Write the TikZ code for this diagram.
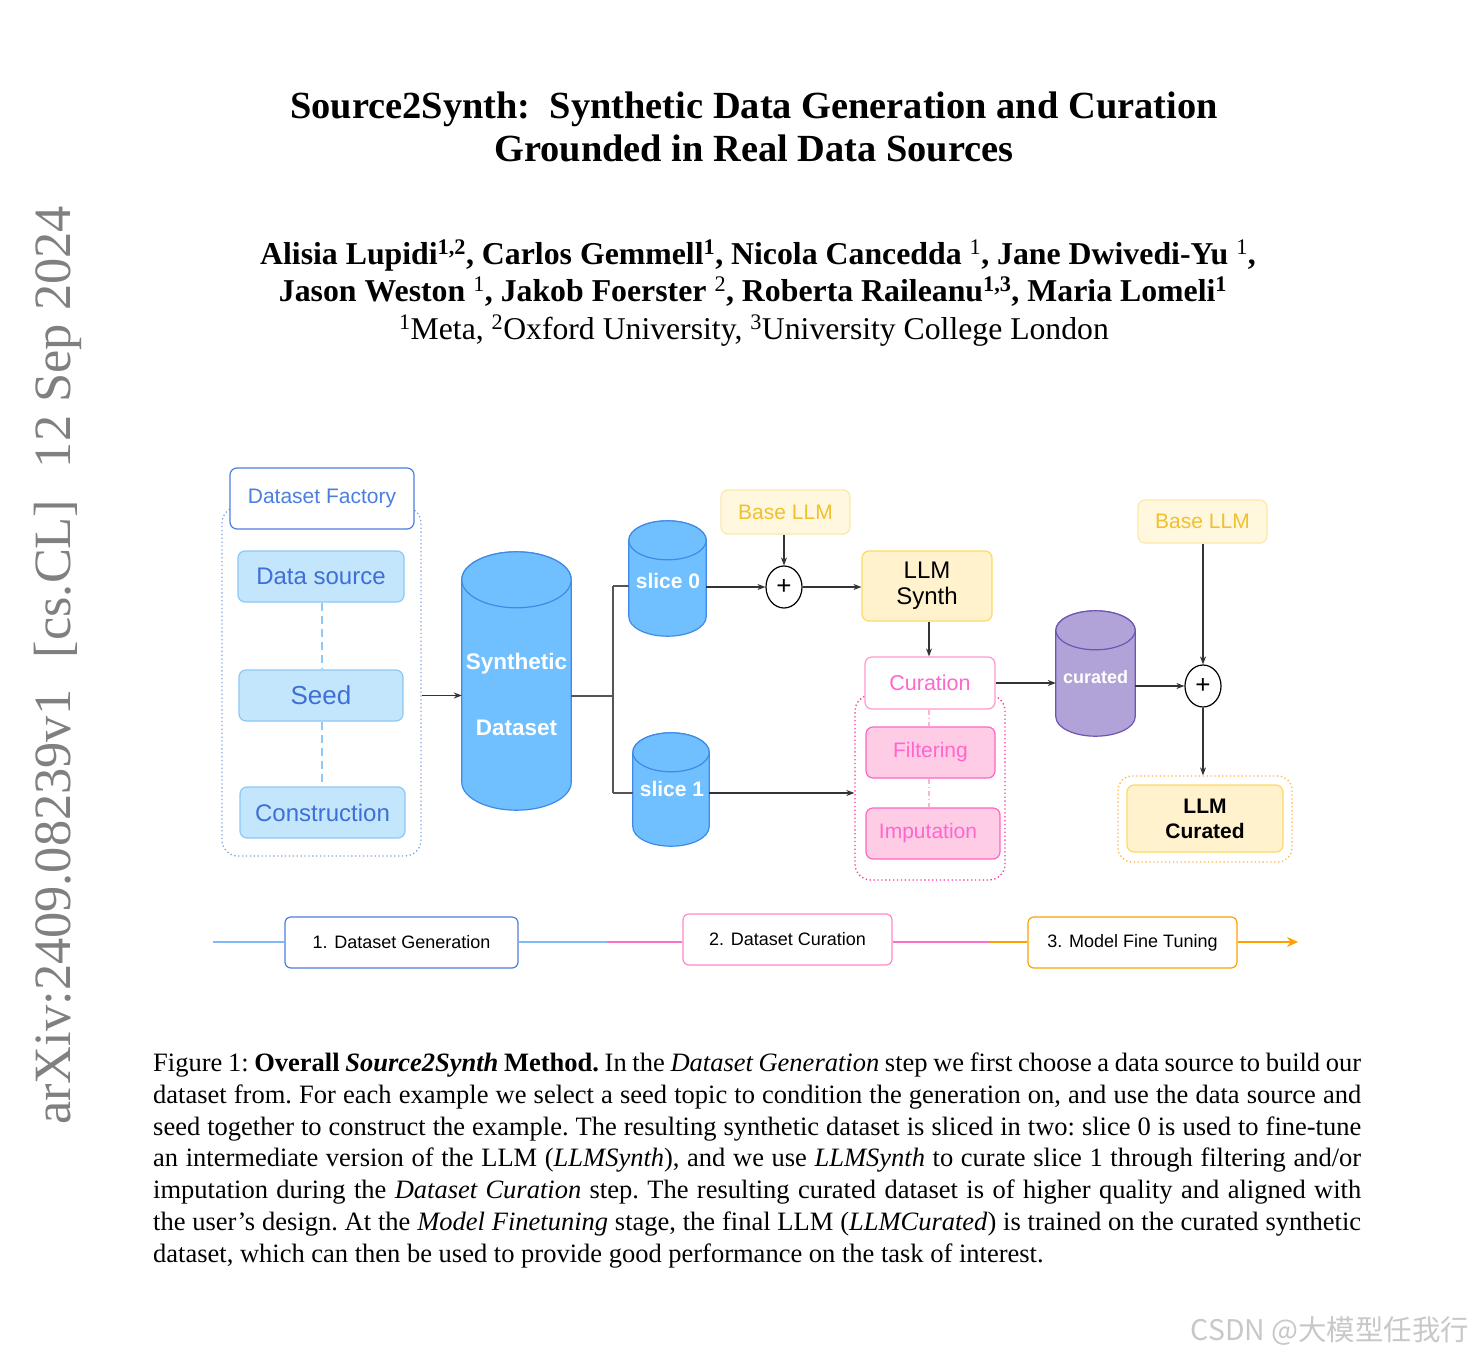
\documentclass[tikz,border=0pt]{standalone}
\usepackage{fontspec}
\setmainfont{Liberation Serif}
\newfontfamily\arial{Liberation Sans}
\newfontfamily\cjkf{Noto Sans CJK SC}
\usetikzlibrary{arrows.meta,shapes.geometric,calc}

\definecolor{dfblue}{HTML}{4A7FE0}
\definecolor{dfdot}{HTML}{7EA6E0}
\definecolor{srcfill}{HTML}{C4E6FD}
\definecolor{srcdraw}{HTML}{8CC8F8}
\definecolor{srctext}{HTML}{3D6FD6}
\definecolor{cylfill}{HTML}{70C0FF}
\definecolor{cyldraw}{HTML}{3F8AE6}
\definecolor{connc}{HTML}{555555}
\definecolor{arrowc}{HTML}{333333}
\definecolor{basefill}{HTML}{FFF8DE}
\definecolor{basedraw}{HTML}{FCE8A8}
\definecolor{basetext}{HTML}{F2BF2E}
\definecolor{llmfill}{HTML}{FFF2CC}
\definecolor{llmdraw}{HTML}{FFD966}
\definecolor{curdraw}{HTML}{FF99CC}
\definecolor{curtext}{HTML}{FF66CC}
\definecolor{filtfill}{HTML}{FFCCE6}
\definecolor{filtdraw}{HTML}{FF66C4}
\definecolor{pinkdot}{HTML}{FF3399}
\definecolor{pinkdash}{HTML}{FFB3D9}
\definecolor{purfill}{HTML}{B1A3D7}
\definecolor{purdraw}{HTML}{6E55B5}
\definecolor{orangedot}{HTML}{FFB347}
\definecolor{tlblue}{HTML}{7EBBF8}
\definecolor{tlpink}{HTML}{FF6EC7}
\definecolor{tlorange}{HTML}{FFA000}
\definecolor{tb2draw}{HTML}{FF88CC}
\definecolor{stampgray}{HTML}{808080}
\definecolor{wmgray}{HTML}{C8C8C8}

% cylinder drawn around an (invisible) named node: #1 name, #2 ry, #3 fill, #4 draw
\newcommand\drawcyl[4]{%
  \path[fill=#3,draw=#4,line width=1.2pt] let \p1=(#1.north west), \p2=(#1.south east) in
    ({\x1},{\y1-#2pt}) -- ({\x1},{\y2+#2pt})
    arc[start angle=180,end angle=360,x radius={(\x2-\x1)/2},y radius=#2pt]
    -- ({\x2},{\y1-#2pt})
    arc[start angle=0,end angle=180,x radius={(\x2-\x1)/2},y radius=#2pt] -- cycle;
  \path[fill=#3,draw=#4,line width=1.2pt] let \p1=(#1.north west), \p2=(#1.south east) in
    ({(\x1+\x2)/2},{\y1-#2pt}) ellipse[x radius={(\x2-\x1)/2},y radius=#2pt];
}

\begin{document}
\begin{tikzpicture}[x=1pt,y=-1pt,
  box/.style={rectangle,rounded corners=7pt,inner sep=0pt,line width=1.2pt},
  cylnode/.style={rectangle,inner sep=0pt,draw=none},
  cyltext/.style={text=white,font=\arial\bfseries\fontsize{22}{22}\selectfont,inner sep=0pt},
  arr/.style={draw=arrowc,line width=1.1pt,-{Stealth[length=8pt,width=6pt]}},
  conn/.style={draw=connc,line width=1.3pt},
  dotbox/.style={rectangle,rounded corners=16pt,line width=1.3pt,dash pattern=on 1.3pt off 2.6pt},
  tlbox/.style={rectangle,rounded corners=6pt,inner sep=0pt,line width=1.2pt,fill=white,
     minimum height=51pt,font=\arial\fontsize{18}{18}\selectfont},
  tline/.style={line width=2.6pt},
  plus/.style={ellipse,draw=black,line width=1.2pt,fill=white,minimum width=36pt,minimum height=42pt,inner sep=0pt,font=\arial\fontsize{26}{26}\selectfont}
]
\useasboundingbox (0,0) rectangle (1473,1357);
\fill[white] (0,0) rectangle (1473,1357);

% ---------- header ----------
\node[anchor=base,font=\bfseries\fontsize{38.4}{38.4}\selectfont,inner sep=0pt] (t1) at (754,118)
  {Source2Synth:\ \ Synthetic Data Generation and Curation};
\node[anchor=base,font=\bfseries\fontsize{38.4}{38.4}\selectfont,inner sep=0pt] (t2) at (754,161)
  {Grounded in Real Data Sources};
\node[anchor=base,font=\bfseries\fontsize{31.8}{31.8}\selectfont,inner sep=0pt] (a1) at (758,264)
  {Alisia Lupidi\textsuperscript{1,2}, Carlos Gemmell\textsuperscript{1}, Nicola Cancedda \textsuperscript{\mdseries 1}, Jane Dwivedi-Yu \textsuperscript{\mdseries 1},};
\node[anchor=base,font=\bfseries\fontsize{31.8}{31.8}\selectfont,inner sep=0pt] (a2) at (753,301)
  {Jason Weston \textsuperscript{\mdseries 1}, Jakob Foerster \textsuperscript{\mdseries 2}, Roberta Raileanu\textsuperscript{1,3}, Maria Lomeli\textsuperscript{1}};
\node[anchor=base,font=\fontsize{31.7}{31.7}\selectfont,inner sep=0pt] (af) at (754,339)
  {\textsuperscript{1}Meta, \textsuperscript{2}Oxford University, \textsuperscript{3}University College London};

% arXiv stamp
\node[anchor=base west,rotate=90,text=stampgray,font=\fontsize{52.4}{52.4}\selectfont,inner sep=0pt] (stamp) at (70,1125)
  {arXiv:2409.08239v1\hspace{0.6em}[cs.CL]\hspace{0.6em}12 Sep 2024};

% ---------- diagram: dataset generation ----------
\node[dotbox,draw=dfdot,minimum width=199pt,minimum height=349pt] (dfc) at (321.5,681.5) {};
\node[box,draw=dfblue,fill=white,minimum width=184pt,minimum height=61pt,text=dfblue,
  font=\arial\fontsize{21}{21}\selectfont] (df) at (322,498.5) {Dataset Factory};
\node[box,draw=srcdraw,fill=srcfill,minimum width=166pt,minimum height=51pt,text=srctext,
  font=\arial\fontsize{24}{24}\selectfont] (src) at (321,576.5) {Data source};
\node[box,draw=srcdraw,fill=srcfill,minimum width=164pt,minimum height=51pt,text=srctext,
  font=\arial\fontsize{26}{26}\selectfont] (seed) at (321,695.5) {Seed};
\node[box,draw=srcdraw,fill=srcfill,minimum width=165pt,minimum height=51pt,text=srctext,
  font=\arial\fontsize{24}{24}\selectfont] (cons) at (322.5,812.5) {Construction};
\draw[srcdraw,line width=1.3pt,dash pattern=on 8pt off 5pt] (src.south -| 322,0) -- (seed.north -| 322,0);
\draw[srcdraw,line width=1.3pt,dash pattern=on 8pt off 5pt] (seed.south -| 322,0) -- (cons.north -| 322,0);

% synthetic dataset cylinder
\node[cylnode,minimum width=109pt,minimum height=258pt] (syn) at (516.5,681) {};
\drawcyl{syn}{28}{cylfill}{cyldraw}
\node[cyltext,font=\arial\bfseries\fontsize{22.5}{22.5}\selectfont] (synA) at (516.5,664) {Synthetic};
\node[cyltext,font=\arial\bfseries\fontsize{22.5}{22.5}\selectfont] (synB) at (516.5,728) {Dataset};
\draw[arr] (dfc.east |- seed.center) -- (syn.west |- seed.center);

% slices
\node[cylnode,minimum width=77pt,minimum height=115pt] (s0) at (667.5,578.5) {};
\drawcyl{s0}{19.5}{cylfill}{cyldraw}
\node[cyltext,font=\arial\bfseries\fontsize{21}{21}\selectfont] (s0t) at (668,581) {slice 0};
\node[cylnode,minimum width=76pt,minimum height=113pt] (s1) at (671,789.5) {};
\drawcyl{s1}{19.5}{cylfill}{cyldraw}
\node[cyltext,font=\arial\bfseries\fontsize{21}{21}\selectfont] (s1t) at (672,789) {slice 1};

\coordinate (jn) at (613,696);
\coordinate (b0) at (613,586);
\coordinate (b1) at (613,793);
\draw[conn] (syn.east |- jn) -- (jn);
\draw[conn] (b0) -- (b1);
\draw[conn] (b0) -- (s0.west |- b0);
\draw[conn] (b1) -- (s1.west |- b1);

% ---------- curation ----------
\node[box,draw=basedraw,fill=basefill,minimum width=129pt,minimum height=44pt,text=basetext,
  font=\arial\fontsize{21}{21}\selectfont] (base1) at (785.5,512) {Base LLM};
\node[plus] (p1) at (784,587) {+};
\node[box,draw=llmdraw,fill=llmfill,minimum width=130pt,minimum height=70pt,align=center,
  font=\arial\fontsize{24}{26}\selectfont] (synth) at (927,586) {LLM\\Synth};
\draw[arr] (base1.south -| p1) -- (p1.north);
\draw[arr] (s0.east |- p1) -- (p1.west);
\draw[arr] (p1.east) -- (synth.west |- p1);

\node[dotbox,draw=pinkdot,minimum width=150pt,minimum height=185pt] (pinkc) at (930,787.5) {};
\node[box,draw=curdraw,fill=white,minimum width=130pt,minimum height=52pt,text=curtext,
  font=\arial\fontsize{21.5}{21.5}\selectfont] (cur) at (930,683) {Curation};
\node[box,draw=filtdraw,fill=filtfill,minimum width=129pt,minimum height=51pt,text=curtext,
  font=\arial\fontsize{21}{21}\selectfont] (filt) at (930.5,752.5) {Filtering};
\node[box,draw=filtdraw,fill=filtfill,minimum width=134pt,minimum height=51pt,text=curtext,
  font=\arial\fontsize{21}{21}\selectfont] (imp) at (933,833.5) {Imputation\hspace*{10pt}};
\draw[pinkdash,line width=1.2pt,dash pattern=on 5pt off 3pt on 1pt off 3pt] (cur.south -| 929,0) -- (filt.north -| 929,0);
\draw[pinkdash,line width=1.2pt,dash pattern=on 5pt off 3pt on 1pt off 3pt] (filt.south -| 929,0) -- (imp.north -| 929,0);
\draw[arr] (synth.south -| 929,0) -- (cur.north -| 929,0);
\draw[arr] (s1.east |- b1) -- (pinkc.west |- b1);

% ---------- fine tuning ----------
\node[cylnode,minimum width=79pt,minimum height=125pt] (curd) at (1095.5,673.5) {};
\drawcyl{curd}{19.5}{purfill}{purdraw}
\node[cyltext,font=\arial\bfseries\fontsize{18}{18}\selectfont] (curdt) at (1095.5,677) {curated};
\draw[arr] (cur.east) -- (curd.west |- cur.east);

\node[box,draw=basedraw,fill=basefill,minimum width=129pt,minimum height=43pt,text=basetext,
  font=\arial\fontsize{21}{21}\selectfont] (base2) at (1202.5,521.5) {Base LLM};
\node[plus] (p2) at (1203,686) {+};
\node[dotbox,draw=orangedot,rounded corners=14pt,minimum width=174pt,minimum height=86pt] (orc) at (1205,819) {};
\node[box,draw=llmdraw,fill=llmfill,minimum width=156pt,minimum height=67pt,align=center,
  font=\arial\bfseries\fontsize{21}{25}\selectfont] (llmc) at (1205,818.5) {LLM\\Curated};
\draw[arr] (base2.south -| p2) -- (p2.north);
\draw[arr] (curd.east |- p2) -- (p2.west);
\draw[arr] (p2.south) -- (orc.north -| p2);

% ---------- timeline ----------
\node[tlbox,draw=dfblue,minimum width=233pt] (tb1) at (401.5,942.5) {1. Dataset Generation};
\node[tlbox,draw=tb2draw,minimum width=209pt] (tb2) at (787.5,939.5) {2. Dataset Curation};
\node[tlbox,draw=tlorange,minimum width=209pt] (tb3) at (1132.5,942.5) {3. Model Fine Tuning};
\coordinate (tl0) at (213,942);
\coordinate (tlbp) at (607,942);
\coordinate (tlpo) at (990,942);
\coordinate (tlend) at (1298,942);
\draw[tline,tlblue] (tl0) -- (tb1.west |- tl0);
\draw[tline,tlblue] (tb1.east |- tl0) -- (tlbp);
\draw[tline,tlpink] (tlbp) -- (tb2.west |- tl0);
\draw[tline,tlpink] (tb2.east |- tl0) -- (tlpo);
\draw[tline,tlorange] (tlpo) -- (tb3.west |- tl0);
\draw[tline,tlorange,-{Stealth[length=11pt,width=10pt]}] (tb3.east |- tl0) -- (tlend);

% ---------- caption ----------
\begin{scope}[every node/.style={anchor=base west,inner sep=0pt,font=\frenchspacing\fontsize{26.5}{26.5}\selectfont}]
\node (c1) at (153,1071) {\makebox[1208pt][s]{Figure 1: \textbf{Overall \textit{Source2Synth} Method.} In the \textit{Dataset Generation} step we first choose a data source to build our}};
\node (c2) at (153,1103) {\makebox[1208pt][s]{dataset from. For each example we select a seed topic to condition the generation on, and use the data source and}};
\node (c3) at (153,1135) {\makebox[1208pt][s]{seed together to construct the example. The resulting synthetic dataset is sliced in two: slice 0 is used to fine-tune}};
\node (c4) at (153,1166) {\makebox[1208pt][s]{an intermediate version of the LLM (\textit{LLMSynth}), and we use \textit{LLMSynth} to curate slice 1 through filtering and/or}};
\node (c5) at (153,1198) {\makebox[1208pt][s]{imputation during the \textit{Dataset Curation} step. The resulting curated dataset is of higher quality and aligned with}};
\node (c6) at (153,1230) {\makebox[1208pt][s]{the user’s design. At the \textit{Model Finetuning} stage, the final LLM (\textit{LLMCurated}) is trained on the curated synthetic}};
\node (c7) at (153,1262) {dataset, which can then be used to provide good performance on the task of interest.};
\end{scope}

% watermark
\node[anchor=east,text=wmgray,font=\cjkf\fontsize{28.4}{28.4}\selectfont,inner sep=0pt] (wm) at (1469,1331) {CSDN @大模型任我行};
\end{tikzpicture}
\end{document}
